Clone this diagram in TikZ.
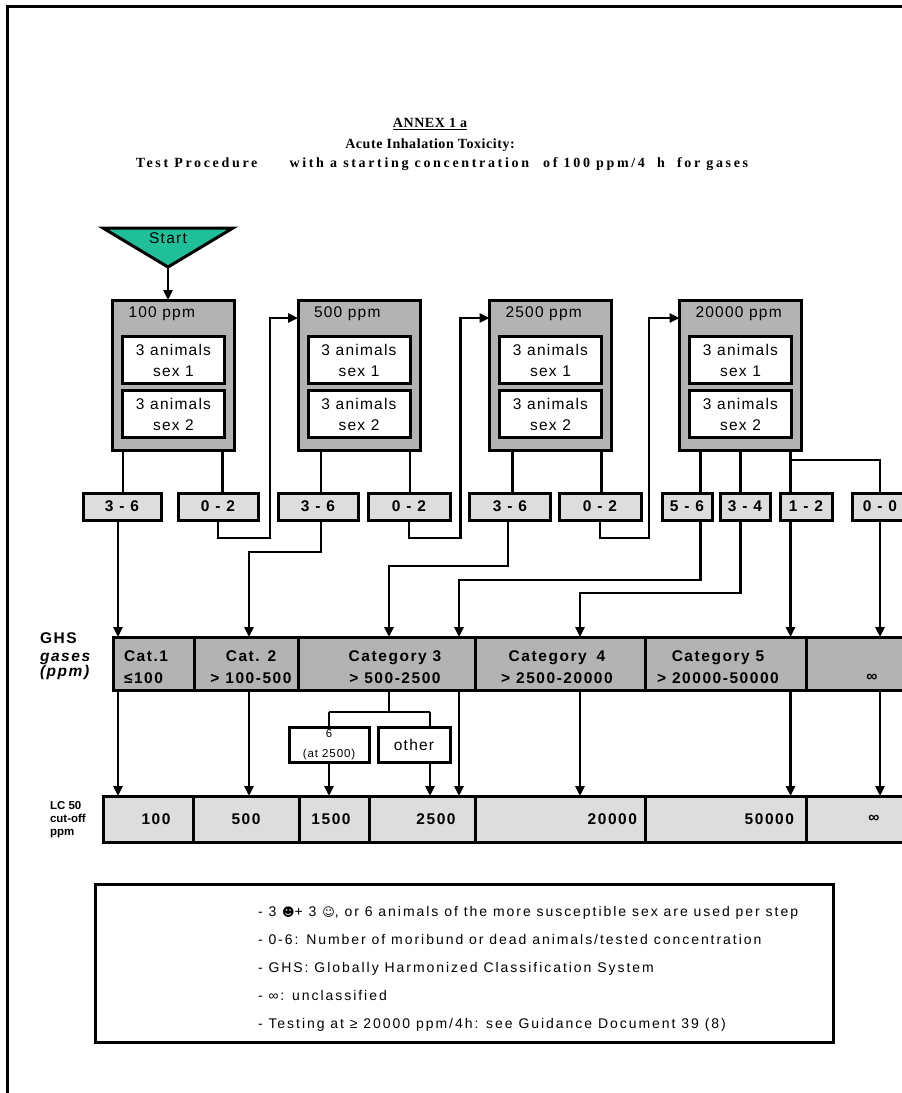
\documentclass[tikz,border=0pt]{standalone}
\usepackage{fontspec}
\setmainfont{Liberation Sans}
\newfontfamily\lsn[LetterSpace=8]{Liberation Sans}
\newfontfamily\lsb[LetterSpace=10]{Liberation Sans}
\newfontfamily\lsl[LetterSpace=14]{Liberation Sans}
\newfontfamily\lst[LetterSpace=4]{Liberation Serif}
\newfontfamily\lstw[LetterSpace=19]{Liberation Serif}
\newfontfamily\dvs{DejaVu Sans}
\usetikzlibrary{arrows.meta,calc}
\definecolor{boxgray}{HTML}{B3B3B3}
\definecolor{lightgraytwo}{HTML}{DDDDDD}
\definecolor{startgreen}{HTML}{1FBF9A}
\newcommand\fBox{\lsn\fontsize{15.5}{21}\selectfont}
\newcommand\fBold{\lsb\bfseries\fontsize{15.5}{21.5}\selectfont}
\newcommand\fBoldIt{\lsb\bfseries\itshape\fontsize{15.5}{16}\selectfont}
\newcommand\fTitle{\lst\bfseries\fontsize{14}{16}\selectfont}
\newcommand\fTitleW{\lstw\bfseries\fontsize{14}{16}\selectfont}
\newcommand\fLeg{\lsl\fontsize{14}{28}\selectfont}
\newcommand\fSmall{\lsn\fontsize{11.5}{20}\selectfont}
\newcommand\fTiny{\bfseries\fontsize{11.5}{13}\selectfont}
\tikzset{
  every node/.style={inner sep=0pt, outer sep=0pt},
  outerbox/.style={draw, line width=3pt, fill=boxgray, minimum width=122pt, minimum height=150pt},
  innerbox/.style={draw, line width=3pt, fill=white, minimum width=102pt, minimum height=47pt, align=center, font=\fBox},
  boxlabel/.style={anchor=west, font=\fBox},
  rangebox/.style={draw, line width=3pt, fill=lightgraytwo, minimum height=27pt, font=\fBold},
  ghscell/.style={draw, line width=3pt, fill=boxgray, minimum height=53pt},
  lccell/.style={draw, line width=3pt, fill=lightgraytwo, minimum height=46pt},
  celltxt/.style={font=\fBold, align=center},
  smallbox/.style={draw, line width=3pt, fill=white, minimum height=35pt, align=center},
  conn/.style={line width=2.6pt},
  arr/.style={line width=2.6pt, -{Triangle[length=10pt,width=9pt]}},
}
\begin{document}
\begin{tikzpicture}[x=1pt,y=-1pt]
\useasboundingbox (0,0) rectangle (902,1093);
\clip (0,0) rectangle (902,1093);
\fill[white] (0,0) rectangle (902,1093);
\draw[line width=3pt] (7,1100) -- (7,6) -- (910,6);

% title
\node[font=\fTitle] (title1) at (430,124) {\underline{ANNEX 1 a}};
\node[font=\fTitle] (title2) at (430,145) {Acute Inhalation Toxicity:};
\node[font=\fTitleW] (title3) at (442,164) {Test Procedure\hspace{26pt} with a starting concentration\hspace{8pt} of 100 ppm/4\hspace{6pt} h\hspace{6pt} for gases};

% start
\draw[line width=3pt, fill=startgreen] (103,228) -- (233,228) -- (168,267) -- cycle;
\node[font=\fBox] (start) at (168,238) {Start};
\coordinate (apex) at (168,267);

% test boxes
\foreach \i/\cx/\lab in {1/173.5/100 ppm,2/359/500 ppm,3/550.5/2500 ppm,4/740.5/20000 ppm}{
  \node[outerbox] (b\i) at (\cx,375) {};
  \node[boxlabel] (bl\i) at ($(b\i.north west)+(16,14)$) {\lab};
  \node[innerbox] (sa\i) at (\cx,360) {3 animals\\sex 1};
  \node[innerbox] (sb\i) at (\cx,414) {3 animals\\sex 2};
}
\draw[arr] (apex) -- (apex |- b1.north);

% result boxes
\foreach \i/\cx/\w/\lab in {1/122/78/3 - 6, 2/218/80/0 - 2, 3/318/80/3 - 6, 4/409/82/0 - 2, 5/510/81/3 - 6, 6/600/82/0 - 2, 7/687/50/5 - 6, 8/745/50/3 - 4, 9/806/52/1 - 2, 10/880/56/0 - 0}
  \node[rangebox, minimum width=\w pt] (r\i) at (\cx,506.5) {\lab};

% GHS bar
\foreach \i/\cx/\w in {1/153.5/81, 2/246/104, 3/386.5/177, 4/560/170, 5/725.5/161, 6/858/104}
  \node[ghscell, minimum width=\w pt] (c\i) at (\cx,663.5) {};
\node[celltxt, anchor=west, align=left] (ct1) at (124,667) {Cat.1\\≤100};
\node[celltxt] (ct2) at (251,667) {Cat. 2\\> 100-500};
\node[celltxt] (ct3) at (395,667) {Category 3\\> 500-2500};
\node[celltxt] (ct4) at (557,667) {Category\hspace{4pt} 4\\> 2500-20000};
\node[celltxt] (ct5) at (718,667) {Category 5\\> 20000-50000};
\node[celltxt] (ct6) at (872,678) {∞};
\node[font=\fBold, anchor=base west] (ghs1) at (40,643) {GHS};
\node[font=\fBoldIt, anchor=base west] (ghs2) at (40,661) {gases};
\node[font=\fBoldIt, anchor=base west] (ghs3) at (40,676) {(ppm)};

% LC50 bar
\foreach \i/\cx/\w in {1/148/90, 2/246/106, 3/334/70, 4/422/106, 5/560/170, 6/725.5/161, 7/858/104}
  \node[lccell, minimum width=\w pt] (L\i) at (\cx,819) {};
\node[celltxt] (v1) at (156,819) {100};
\node[celltxt] (v2) at (246,819) {500};
\node[celltxt] (v3) at (331,819) {1500};
\node[celltxt] (v4) at (436,819) {2500};
\node[celltxt, anchor=east] (v5) at (637,819) {20000};
\node[celltxt, anchor=east] (v6) at (794,819) {50000};
\node[celltxt] (v7) at (874,819) {∞};
\node[font=\fTiny, anchor=west, align=left] (lclab) at (50,820) {LC 50\\cut-off\\ppm};

% split boxes
\node[smallbox, minimum width=80pt, font=\fSmall] (k1) at (329,744.5) {6\\(at 2500)};
\node[smallbox, minimum width=72pt, font=\fBox] (k2) at (414,744.5) {other};

% connectors: boxes to results
\foreach \b/\r/\dx in {1/1/10.5, 1/2/110, 2/3/23, 2/4/112, 3/5/23, 3/6/112, 4/7/21, 4/8/61, 4/9/111}
  \draw[conn] ($(b\b.south west)+(\dx,0)$) coordinate (u\r) -- (u\r |- r\r.north);
\draw[conn] ($(u9)+(0,10)$) coordinate (br9) -| (r10.north);

% connectors: results onwards
\coordinate (d1) at ($(r1.south)+(-4,0)$);
\draw[arr] (d1) -- (d1 |- c1.north);
\coordinate (e2) at ($(b2.north west)+(0,18)$);
\draw[arr] (r2.south) -- ++(0,18) -| ($(e2)+(-28,0)$) -- (e2);
\coordinate (g2) at ($(c2.north)+(3,0)$);
\draw[arr] (u3 |- r3.south) -- ++(0,32) -| (g2);
\coordinate (e3) at ($(b3.north west)+(0,18)$);
\draw[arr] (r4.south) -- ++(0,18) -| ($(e3)+(-29,0)$) -- (e3);
\coordinate (g3) at ($(c3.north)+(2.5,0)$);
\draw[arr] ($(r5.south)+(-2,0)$) -- ++(0,46) -| (g3);
\coordinate (e4) at ($(b4.north west)+(0,18)$);
\draw[arr] (r6.south) -- ++(0,18) -| ($(e4)+(-30.5,0)$) -- (e4);
\coordinate (g3b) at ($(c3.north)+(72.5,0)$);
\draw[arr] (u7 |- r7.south) -- ++(0,60) -| (g3b);
\coordinate (g4) at ($(c4.north)+(20,0)$);
\draw[arr] (u8 |- r8.south) -- ++(0,73) -| (g4);
\draw[arr] (u9 |- r9.south) -- (u9 |- c5.north);
\draw[arr] (r10.south) -- (r10.south |- c6.north);

% GHS to LC50
\draw[arr] (d1 |- c1.south) -- (d1 |- L1.north);
\draw[arr] (g2 |- c2.south) -- (g2 |- L2.north);
\draw[conn] (g3 |- c3.south) -- ++(0,22) coordinate (split);
\coordinate (q2) at ($(k2.north)+(16,0)$);
\draw[conn] (k1.north |- split) -- (q2 |- split);
\draw[conn] (k1.north |- split) -- (k1.north);
\draw[conn] (q2 |- split) -- (q2);
\draw[arr] (k1.south) -- (k1.south |- L3.north);
\draw[arr] (q2 |- k2.south) -- (q2 |- L4.north);
\draw[arr] (g3b |- c3.south) -- (g3b |- L4.north);
\draw[arr] (g4 |- c4.south) -- (g4 |- L5.north);
\draw[arr] (u9 |- c5.south) -- (u9 |- L6.north);
\draw[arr] (r10.south |- c6.south) -- (r10.south |- L7.north);

% legend
\node[draw, line width=3pt, minimum width=738pt, minimum height=158pt] (legend) at (464,963) {};
\node[font=\fLeg, anchor=west, align=left] (legtext) at (258,969) {%
- 3 {\dvs\fontsize{12}{28}\selectfont ☻}+ 3 {\dvs\fontsize{12}{28}\selectfont ☺}, or 6 animals of the more susceptible sex are used per step\\
- 0-6: Number of moribund or dead animals/tested concentration\\
- GHS: Globally Harmonized Classification System\\
- ∞: unclassified\\
- Testing at ≥ 20000 ppm/4h: see Guidance Document 39 (8)};
\end{tikzpicture}
\end{document}
